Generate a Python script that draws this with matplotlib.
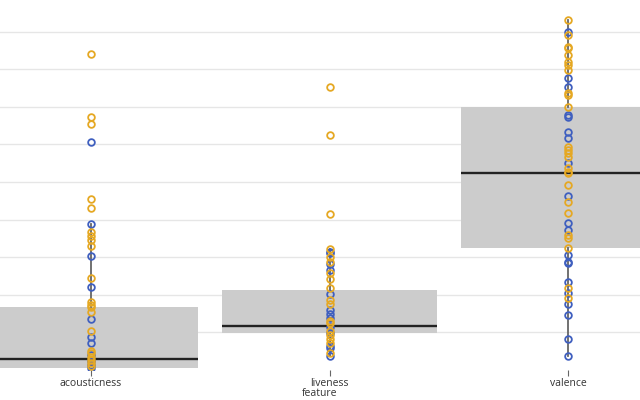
import matplotlib
matplotlib.use("Agg")
import matplotlib.pyplot as plt

plt.rcParams['font.family'] = ['Open Sans', 'DejaVu Sans']

# Data
features = ["acousticness", "liveness", "valence"]

# box statistics per feature
q1 = [0.004, 0.097, 0.323]
med = [0.028, 0.117, 0.525]
q3 = [0.167, 0.212, 0.701]
whislo = [0.003, 0.035, 0.037]
whishi = [0.388, 0.321, 0.932]

# individual songs, split by group colour
acoust_orange = [0.841, 0.673, 0.655, 0.455, 0.431, 0.367, 0.356, 0.345, 0.329,
                 0.245, 0.180, 0.172, 0.167, 0.153, 0.103, 0.049, 0.044, 0.033,
                 0.025, 0.017, 0.009]
acoust_blue = [0.607, 0.388, 0.303, 0.220, 0.135, 0.087, 0.071, 0.039, 0.023,
               0.012, 0.004]
live_orange = [0.753, 0.625, 0.414, 0.321, 0.301, 0.287, 0.257, 0.241, 0.217,
               0.185, 0.175, 0.124, 0.103, 0.092, 0.081, 0.044, 0.070, 0.130]
live_blue = [0.314, 0.281, 0.265, 0.201, 0.159, 0.148, 0.137, 0.114, 0.063,
             0.057, 0.035, 0.097, 0.310]
val_orange = [0.932, 0.892, 0.861, 0.857, 0.839, 0.821, 0.812, 0.799, 0.738,
              0.732, 0.701, 0.594, 0.585, 0.577, 0.567, 0.537, 0.527, 0.523,
              0.492, 0.447, 0.417, 0.359, 0.350, 0.323, 0.217, 0.191]
val_blue = [0.901, 0.777, 0.753, 0.679, 0.674, 0.634, 0.617, 0.550, 0.463,
            0.390, 0.372, 0.305, 0.287, 0.284, 0.234, 0.203, 0.175, 0.145,
            0.081, 0.037]

orange_pts = [acoust_orange, live_orange, val_orange]
blue_pts = [acoust_blue, live_blue, val_blue]

ORANGE = "#E5A823"
BLUE = "#3F5FBF"

fig = plt.figure(figsize=(6.4, 4.0), dpi=100)
ax = fig.add_axes([0, 0.075, 1, 0.925])

stats = []
for i, name in enumerate(features):
    stats.append(dict(label=name, q1=q1[i], med=med[i], q3=q3[i],
                      whislo=whislo[i], whishi=whishi[i], fliers=[]))

ax.bxp(stats, positions=range(len(features)), widths=0.9, patch_artist=True,
       showcaps=False, showfliers=False,
       boxprops=dict(facecolor="#cccccc", edgecolor="none"),
       medianprops=dict(color="#222222", linewidth=1.7),
       whiskerprops=dict(color="#666666", linewidth=1.3),
       zorder=2)

for i in range(len(features)):
    ax.plot([i] * len(blue_pts[i]), blue_pts[i], 'o', mfc="none", mec=BLUE,
            ms=4.8, mew=1.3, zorder=3)
    ax.plot([i] * len(orange_pts[i]), orange_pts[i], 'o', mfc="none", mec=ORANGE,
            ms=4.8, mew=1.3, zorder=4)

ax.set_xlim(-0.38, 2.30)
ax.set_ylim(-0.001, 0.985)
ax.set_yticks([0.1 * k for k in range(1, 10)])
ax.yaxis.grid(True, color="#e6e6e6", linewidth=1)
ax.set_axisbelow(True)
ax.tick_params(axis="y", left=False, labelleft=False)
ax.tick_params(axis="x", length=4, color="#666666", labelsize=7.5,
               labelcolor="#333333", pad=2)
ax.set_xticks(range(len(features)))
ax.set_xticklabels(features)
ax.set_xlabel("feature", fontsize=7.5, color="#333333", labelpad=-1)
for s in ax.spines.values():
    s.set_visible(False)

fig.savefig("out.png", dpi=100)
